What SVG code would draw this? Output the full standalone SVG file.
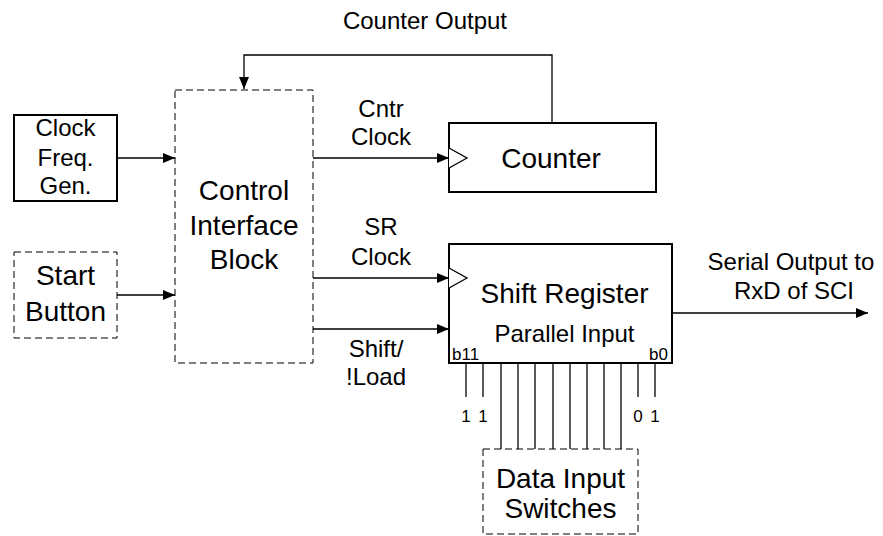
<svg xmlns="http://www.w3.org/2000/svg" width="883" height="536" viewBox="0 0 883 536">
<defs>
<style>
text{font-family:"Liberation Sans",Arial,sans-serif;fill:#000;text-anchor:middle}
.big{font-size:28px}
.mid{font-size:24px}
.sm{font-size:17px}
.box{fill:#fff;stroke:#000;stroke-width:2}
.dash{fill:none;stroke:#000;stroke-width:1;stroke-dasharray:7,4}
.wire{fill:none;stroke:#000;stroke-width:1.3}
.clk{fill:#fff;stroke:#000;stroke-width:1.3}
</style>
<marker id="ah" viewBox="0 0 12 10" refX="12" refY="5" markerWidth="12" markerHeight="10" markerUnits="userSpaceOnUse" orient="auto">
<path d="M0,0 L12,5 L0,10 Z" fill="#000"/>
</marker>
</defs>

<g id="connectors">
<path class="wire" d="M552,123 V55 H244 V89" marker-end="url(#ah)"/>
<line class="wire" x1="117" y1="158" x2="175" y2="158" marker-end="url(#ah)"/>
<line class="wire" x1="117" y1="295" x2="175" y2="295" marker-end="url(#ah)"/>
<line class="wire" x1="313" y1="158" x2="449" y2="158" marker-end="url(#ah)"/>
<line class="wire" x1="313" y1="278" x2="449" y2="278" marker-end="url(#ah)"/>
<line class="wire" x1="313" y1="329" x2="449" y2="329" marker-end="url(#ah)"/>
<line class="wire" x1="672" y1="313" x2="868" y2="313" marker-end="url(#ah)"/>
<g class="pins">
<line class="wire" x1="466" y1="363" x2="466" y2="397"/>
<line class="wire" x1="483" y1="363" x2="483" y2="397"/>
<line class="wire" x1="501" y1="363" x2="501" y2="449"/>
<line class="wire" x1="518" y1="363" x2="518" y2="449"/>
<line class="wire" x1="535" y1="363" x2="535" y2="449"/>
<line class="wire" x1="553" y1="363" x2="553" y2="449"/>
<line class="wire" x1="570" y1="363" x2="570" y2="449"/>
<line class="wire" x1="587" y1="363" x2="587" y2="449"/>
<line class="wire" x1="604" y1="363" x2="604" y2="449"/>
<line class="wire" x1="621" y1="363" x2="621" y2="449"/>
<line class="wire" x1="638" y1="363" x2="638" y2="397"/>
<line class="wire" x1="655" y1="363" x2="655" y2="397"/>
</g>
<text class="mid" x="425" y="29">Counter Output</text>
<text class="mid" x="381" y="117">Cntr</text>
<text class="mid" x="381" y="145">Clock</text>
<text class="mid" x="381" y="235">SR</text>
<text class="mid" x="381" y="265">Clock</text>
<text class="mid" x="376" y="357">Shift/</text>
<text class="mid" x="376" y="385">!Load</text>
<text class="mid" x="791" y="270">Serial Output to</text>
<text class="mid" x="794" y="299">RxD of SCI</text>
<text class="sm" x="466" y="422">1</text>
<text class="sm" x="483" y="422">1</text>
<text class="sm" x="638" y="422">0</text>
<text class="sm" x="655" y="422">1</text>
</g>

<g id="clock-freq-gen">
<rect class="box" x="14" y="115" width="103" height="86"/>
<text class="mid" x="65.5" y="136">Clock</text>
<text class="mid" x="65.5" y="166">Freq.</text>
<text class="mid" x="65.5" y="194">Gen.</text>
</g>

<g id="start-button">
<rect class="dash" x="14" y="252" width="103" height="86"/>
<text class="big" x="65.5" y="285">Start</text>
<text class="big" x="65.5" y="321">Button</text>
</g>

<g id="control-interface-block">
<rect class="dash" x="175" y="90" width="138" height="273"/>
<text class="big" x="244" y="200">Control</text>
<text class="big" x="244" y="235">Interface</text>
<text class="big" x="244" y="269">Block</text>
</g>

<g id="counter">
<rect class="box" x="449" y="123" width="207" height="69"/>
<path class="clk" d="M449,148 L467,158 L449,168"/>
<text class="big" x="551" y="168">Counter</text>
</g>

<g id="shift-register">
<rect class="box" x="449" y="244" width="223" height="119"/>
<path class="clk" d="M449,268 L467,278 L449,288"/>
<text class="big" x="564.5" y="303">Shift Register</text>
<text class="mid" x="564.5" y="342">Parallel Input</text>
<text class="sm" x="452" y="360" style="text-anchor:start">b11</text>
<text class="sm" x="668" y="360" style="text-anchor:end">b0</text>
</g>

<g id="data-input-switches">
<rect class="dash" x="483" y="449" width="155" height="85"/>
<text class="big" x="560.5" y="488">Data Input</text>
<text class="big" x="560.5" y="518">Switches</text>
</g>
</svg>
